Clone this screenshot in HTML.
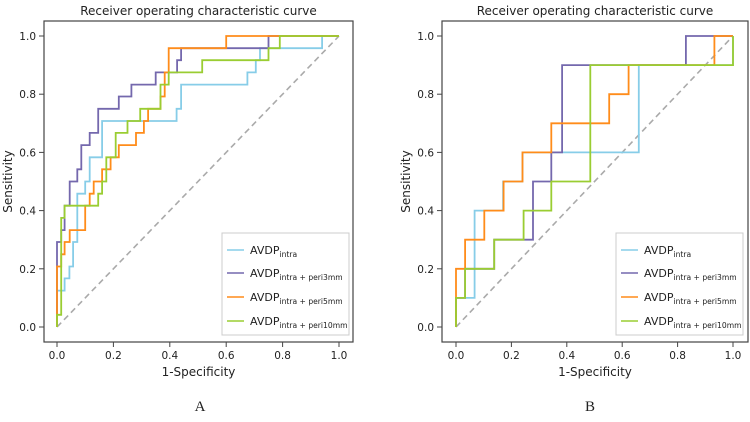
<!DOCTYPE html>
<html><head><meta charset="utf-8"><style>
body{margin:0;background:#fff;}
svg{display:block;font-family:"DejaVu Sans","Liberation Sans",sans-serif;}
</style></head><body>
<svg id="chart" width="750" height="422" viewBox="0 0 750 422" xmlns="http://www.w3.org/2000/svg"></svg>
<script>
const tickValues=[0,0.2,0.4,0.6,0.8,1.0];
const tickLabels=["0.0","0.2","0.4","0.6","0.8","1.0"];
const seriesNames=["intra","intra + peri3mm","intra + peri5mm","intra + peri10mm"];
const seriesColors=["#87cde8","#7468ad","#ff8c1a","#9acd32"];
// Panel A
const aIntraX=[0,0,.027,.027,.044,.044,.057,.057,.072,.072,.1,.1,.116,.116,.16,.16,.424,.424,.44,.44,.675,.675,.705,.705,.72,.72,.94,.94,1];
const aIntraY=[0,.125,.125,.167,.167,.208,.208,.292,.292,.458,.458,.5,.5,.583,.583,.708,.708,.75,.75,.833,.833,.875,.875,.917,.917,.958,.958,1,1];
const aP3X=[0,0,.015,.015,.027,.027,.045,.045,.072,.072,.086,.086,.116,.116,.146,.146,.219,.219,.264,.264,.35,.35,.426,.426,.44,.44,.75,.75,1];
const aP3Y=[0,.292,.292,.333,.333,.417,.417,.5,.5,.542,.542,.625,.625,.667,.667,.75,.75,.792,.792,.833,.833,.875,.875,.917,.917,.958,.958,1,1];
const aP5X=[0,0,.015,.015,.027,.027,.045,.045,.1,.1,.116,.116,.13,.13,.16,.16,.19,.19,.219,.219,.28,.28,.308,.308,.323,.323,.367,.367,.382,.382,.396,.396,.6,.6,1];
const aP5Y=[0,.208,.208,.25,.25,.292,.292,.333,.333,.417,.417,.458,.458,.5,.5,.542,.542,.583,.583,.625,.625,.667,.667,.708,.708,.75,.75,.792,.792,.875,.875,.958,.958,1,1];
const aP10X=[0,0,.015,.015,.027,.027,.146,.146,.16,.16,.175,.175,.208,.208,.25,.25,.295,.295,.367,.367,.396,.396,.515,.515,.75,.75,.79,.79,1];
const aP10Y=[0,.042,.042,.375,.375,.417,.417,.458,.458,.5,.5,.583,.583,.667,.667,.708,.708,.75,.75,.833,.833,.875,.875,.917,.917,.958,.958,1,1];
// Panel B
const bIntraX=[0,0,.067,.067,.17,.17,.24,.24,.66,.66,1,1];
const bIntraY=[0,.1,.1,.4,.4,.5,.5,.6,.6,.9,.9,1];
const bP3X=[0,0,.033,.033,.138,.138,.278,.278,.344,.344,.383,.383,.83,.83,1];
const bP3Y=[0,.1,.1,.2,.2,.3,.3,.5,.5,.6,.6,.9,.9,1,1];
const bP5X=[0,0,.033,.033,.102,.102,.172,.172,.24,.24,.344,.344,.553,.553,.623,.623,.933,.933,1];
const bP5Y=[0,.2,.2,.3,.3,.4,.4,.5,.5,.6,.6,.7,.7,.8,.8,.9,.9,1,1];
const bP10X=[0,0,.033,.033,.138,.138,.244,.244,.344,.344,.485,.485,1,1];
const bP10Y=[0,.1,.1,.2,.2,.3,.3,.4,.4,.5,.5,.9,.9,1];

const NS="http://www.w3.org/2000/svg";
const svg=document.getElementById('chart');
function mk(tag,attrs,parent){const e=document.createElementNS(NS,tag);for(const k in attrs)e.setAttribute(k,attrs[k]);(parent||svg).appendChild(e);return e;}

function panel(p){
  const g=mk('g',{});
  
  
  const sx=v=>p.x0+v*(p.x1-p.x0), sy=v=>p.y0-v*(p.y0-p.y1);
  const fr=mk('rect',{x:p.fl,y:21,width:p.fr-p.fl,height:342-21,fill:'#fff',stroke:'#444','stroke-width':1.2},g);
  
  
  const t=mk('text',{x:(p.fl+p.fr)/2,y:15,'text-anchor':'middle','font-size':12,fill:'#222'},g);
  t.textContent='Receiver operating characteristic curve';
  
  
  tickValues.forEach((v,i)=>{
    mk('line',{x1:sx(v),x2:sx(v),y1:342,y2:347,stroke:'#444'},g);
    const xl=mk('text',{x:sx(v),y:359,'text-anchor':'middle','font-size':10.5,fill:'#222'},g);
    xl.textContent=tickLabels[i];
    
    
    mk('line',{x1:p.fl-5,x2:p.fl,y1:sy(v),y2:sy(v),stroke:'#444'},g);
    const yl=mk('text',{x:p.fl-8,y:sy(v)+4,'text-anchor':'end','font-size':10.5,fill:'#222'},g);
    yl.textContent=tickLabels[i];
    
    
  });
  const xt=mk('text',{x:(p.fl+p.fr)/2,y:376,'text-anchor':'middle','font-size':12,fill:'#222'},g);
  xt.textContent='1-Specificity';
  
  
  const yt=mk('text',{x:0,y:0,'text-anchor':'middle','font-size':12,fill:'#222',transform:`translate(${p.fl-32},${(p.y0+p.y1)/2}) rotate(-90)`},g);
  yt.textContent='Sensitivity';
  
  
  const pl=mk('text',{x:p.labelX,y:411,'text-anchor':'middle','font-size':15,fill:'#222','font-family':'Liberation Serif, serif'},g);
  pl.textContent=p.id;
  
  
  const d=mk('line',{x1:sx(0),y1:sy(0),x2:sx(1),y2:sy(1),stroke:'#aaa','stroke-width':1.6,'stroke-dasharray':'6,4'},g);
  
  
  p.series.forEach((s,i)=>{
    const pts=s[0].map((x,j)=>sx(x).toFixed(1)+','+sy(s[1][j]).toFixed(1)).join(' ');
    const l=mk('polyline',{points:pts,fill:'none',stroke:seriesColors[i],'stroke-width':1.8},g);
    
    
  });
  const lg=mk('g',{},g);
  
  
  mk('rect',{x:p.lx,y:233,width:127,height:102,fill:'#fff',stroke:'#ccc','stroke-width':1},lg);
  const ys=[250,273,297,321];
  seriesNames.forEach((n,i)=>{
    mk('line',{x1:p.lx+5,x2:p.lx+22,y1:ys[i],y2:ys[i],stroke:seriesColors[i],'stroke-width':1.6},lg);
    const tx=mk('text',{x:p.lx+28,y:ys[i]+4,'font-size':11,fill:'#222'},lg);
    
    
    tx.appendChild(document.createTextNode('AVDP'));
    const sub=mk('tspan',{'font-size':7.6,dy:3},tx);
    sub.textContent=n;
  });
}
panel({id:'A',x0:57,x1:339,y0:327,y1:36,fl:44,fr:353,lx:222,labelX:200,
  series:[[aIntraX,aIntraY],[aP3X,aP3Y],[aP5X,aP5Y],[aP10X,aP10Y]]});
panel({id:'B',x0:456,x1:733,y0:327,y1:36,fl:442,fr:748,lx:616,labelX:590,
  series:[[bIntraX,bIntraY],[bP3X,bP3Y],[bP5X,bP5Y],[bP10X,bP10Y]]});
</script>
</body></html>
